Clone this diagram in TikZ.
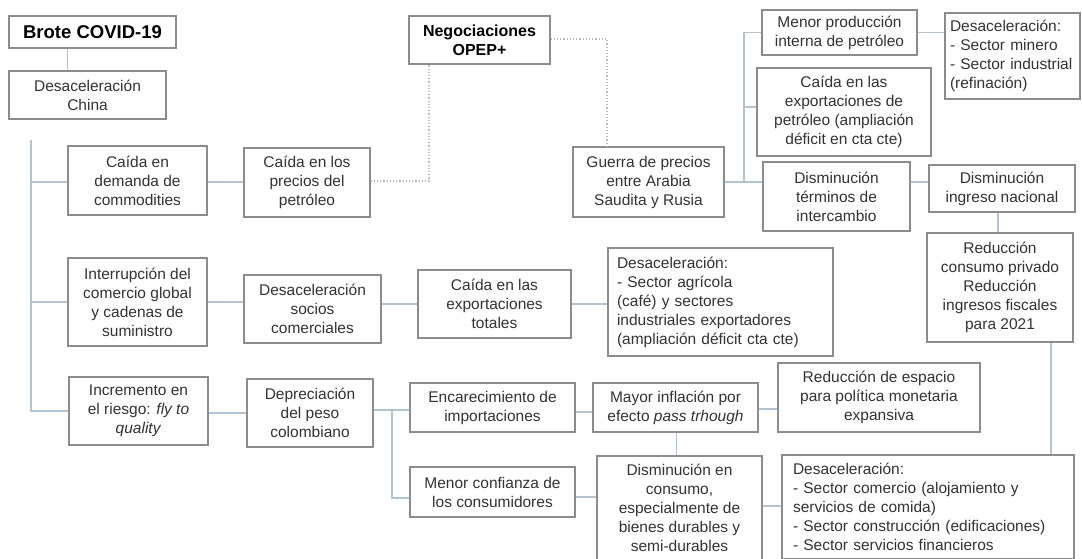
\documentclass[tikz,border=0pt]{standalone}
\usepackage{fontspec}
\setmainfont{Liberation Sans}
\hyphenpenalty=10000
\exhyphenpenalty=10000
\definecolor{rahmen}{HTML}{8C8C8C}
\definecolor{linie}{HTML}{B4C3D2}
\definecolor{punkte}{HTML}{B8BCC8}
\definecolor{schrift}{HTML}{333333}
\begin{document}
\begin{tikzpicture}[x=1pt, y=-1pt,
    box/.style={draw=rahmen, line width=1.2pt, fill=white, align=center, inner sep=0pt,
        text=schrift, font=\fontsize{15.5}{19}\selectfont},
    boxl/.style={box, align=left, inner xsep=6pt},
    titel/.style={box, text=black, font=\fontsize{16}{19}\selectfont\bfseries},
    verb/.style={draw=linie, line width=1.2pt},
    punktiert/.style={draw=punkte, line width=1.2pt, dotted}
]
\useasboundingbox (0,0) rectangle (1082,558);
% --- Ausgangspunkt ---
\node[titel, font=\fontsize{18.5}{22}\selectfont\bfseries, minimum width=167pt, minimum height=32pt] (brote) at (92.5,32) {Brote COVID-19};
\node[box, minimum width=157pt, minimum height=48pt] (china) at (87.5,95) {Desaceleración\\China};
\node[titel, minimum width=141pt, minimum height=48pt] (opep) at (479.5,40) {Negociaciones\\OPEP+};
% --- Zeile 1: Rohstoffe ---
\node[box, minimum width=139pt, minimum height=69pt] (demanda) at (137.5,180.5) {Caída en\\demanda de\\commodities};
\node[box, minimum width=126pt, minimum height=69pt] (precios) at (307,182.5) {Caída en los\\precios del\\petróleo};
\node[box, minimum width=151pt, minimum height=70pt] (guerra) at (648.5,182) {Guerra de precios\\entre Arabia\\Saudita y Rusia};
\node[box, minimum width=155pt, minimum height=45pt] (menorprod) at (839.5,32.5) {Menor producción\\interna de petróleo};
\node[box, minimum width=174pt, minimum height=88pt] (exppet) at (844,112) {Caída en las\\exportaciones de\\petróleo (ampliación\\déficit en cta cte)};
\node[boxl, inner xsep=5pt, text width=125pt, minimum height=86pt] (desminero) at (1012.5,56) {Desaceleración:\\- Sector minero\\- Sector industrial\\(refinación)};
\node[box, minimum width=147pt, minimum height=69pt] (terminos) at (836.5,196.5) {Disminución\\términos de\\intercambio};
\node[box, minimum width=146pt, minimum height=47pt] (ingreso) at (1002,188.5) {Disminución\\ingreso nacional};
\node[box, minimum width=146pt, minimum height=109pt] (reduccion) at (1000,287.5) {Reducción\\consumo privado\\Reducción\\ingresos fiscales\\para 2021};
% --- Zeile 2: Handel ---
\node[box, minimum width=139pt, minimum height=88pt] (interrupcion) at (137.5,302) {Interrupción del\\comercio global\\y cadenas de\\suministro};
\node[box, minimum width=137pt, minimum height=68pt] (socios) at (312.5,309) {Desaceleración\\socios\\comerciales};
\node[box, minimum width=153pt, minimum height=68pt] (exptot) at (494.5,304) {Caída en las\\exportaciones\\totales};
\node[boxl, inner xsep=9pt, text width=207pt, minimum height=108pt] (desagricola) at (720.5,302) {Desaceleración:\\- Sector agrícola\\(café) y sectores\\industriales exportadores\\(ampliación déficit cta cte)};
% --- Zeile 3: Risiko ---
\node[box, minimum width=139pt, minimum height=68pt] (incremento) at (138.5,411) {Incremento en\\el riesgo: \textit{fly to}\\\textit{quality}};
\node[box, minimum width=126pt, minimum height=68pt] (depreciacion) at (310,413) {Depreciación\\del peso\\colombiano};
\node[box, minimum width=165pt, minimum height=49pt] (encarec) at (492.5,407.5) {Encarecimiento de\\importaciones};
\node[box, minimum width=165pt, minimum height=49pt] (inflacion) at (675.5,407.5) {Mayor inflación por\\efecto \textit{pass trhough}};
\node[box, minimum width=202pt, minimum height=69pt] (espacio) at (879,397.5) {Reducción de espacio\\para política monetaria\\expansiva};
\node[box, minimum width=165pt, minimum height=50pt] (confianza) at (492.5,492) {Menor confianza de\\los consumidores};
\node[box, minimum width=165pt, minimum height=104pt] (consumo) at (679.5,508) {Disminución en\\consumo,\\especialmente de\\bienes durables y\\semi-durables};
\node[boxl, inner xsep=11pt, text width=270pt, minimum height=104pt] (desfinal) at (928,507) {Desaceleración:\\- Sector comercio (alojamiento y\\servicios de comida)\\- Sector construcción (edificaciones)\\- Sector servicios financieros};
% --- Verbindungen ---
\coordinate (trunk) at (31,140);
\coordinate (jpet) at (744,182);
\coordinate (jdep) at (392,410);
\draw[verb] (brote.south -| demanda.west) -- (china.north -| demanda.west);
\draw[verb] (trunk) |- (incremento.west);
\draw[verb] (trunk |- 0,182) -- (demanda.west |- 0,182);
\draw[verb] (trunk |- interrupcion.west) -- (interrupcion.west);
\draw[verb] (demanda.east |- 0,182) -- (precios.west |- 0,182);
\draw[verb] (guerra.east) -- (guerra.east -| terminos.west);
\draw[verb] (jpet) |- (menorprod.west);
\draw[verb] (jpet |- 0,107) -- (exppet.west |- 0,107);
\draw[verb] (menorprod.east) -- (menorprod.east -| desminero.west);
\draw[verb] (terminos.east |- 0,182) -- (ingreso.west |- 0,182);
\draw[verb] ([xshift=-4pt]ingreso.south) -- ([xshift=-4pt]ingreso.south |- reduccion.north);
\draw[verb] ([xshift=51pt]reduccion.south) -- ([xshift=51pt]reduccion.south |- desfinal.north);
\draw[verb] (interrupcion.east) -- (interrupcion.east -| socios.west);
\draw[verb] (exptot.west -| socios.east) -- (exptot.west);
\draw[verb] (exptot.east) -- (exptot.east -| desagricola.west);
\draw[verb] (incremento.east |- 0,413) -- (depreciacion.west |- 0,413);
\draw[verb] (depreciacion.east |- jdep) -- (encarec.west |- jdep);
\draw[verb] (jdep) |- (confianza.west |- 0,498);
\draw[verb] (encarec.east |- 0,412) -- (inflacion.west |- 0,412);
\draw[verb] (inflacion.east |- 0,409) -- (espacio.west |- 0,409);
\draw[verb] ([xshift=1pt]inflacion.south) -- ([xshift=1pt]inflacion.south |- consumo.north);
\draw[verb] (confianza.east |- 0,497) -- (consumo.west |- 0,497);
\draw[verb] (consumo.east |- 0,506) -- (desfinal.west |- 0,506);
% --- OPEP+ (punktiert) ---
\draw[punktiert] (precios.east |- 0,181) -| ([xshift=-50.5pt]opep.south);
\draw[punktiert] (opep.east |- 0,39) -| ([xshift=-41.5pt]guerra.north);
\end{tikzpicture}
\end{document}
